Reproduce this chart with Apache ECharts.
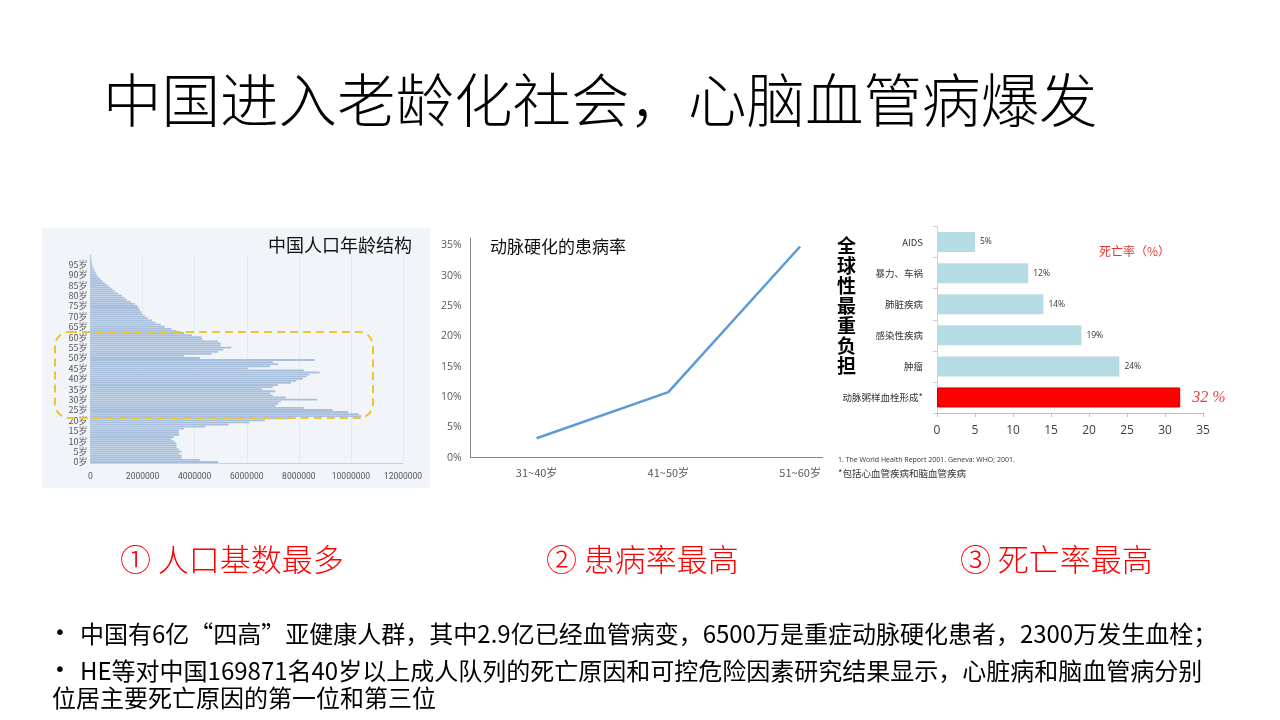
<!DOCTYPE html>
<html>
<head>
<meta charset="utf-8">
<script src="https://cdn.jsdelivr.net/npm/echarts@6/dist/echarts.min.js"></script>
<style>
  html, body { margin: 0; padding: 0; background: #ffffff; }
  #page { position: absolute; left: 0; top: 0; width: 1280px; height: 720px; }
  #lineWrap { position: absolute; left: 430px; top: 225px; width: 393px; height: 262px; overflow: hidden; }
  #lineChart { width: 460px; height: 262px; }
</style>
</head>
<body>
<div id="page"></div>
<div id="lineWrap"><div id="lineChart"></div></div>
<script>
// ---- data ----
// population by single year of age (0岁 ... 99岁)
var ageLabels = [];
for (var a = 0; a < 100; a++) ageLabels.push(a + "岁");
var population = [
  4900000, 4200000, 3500000, 3500000, 3400000, 3500000, 3400000, 3300000, 3300000, 3300000,
  3200000, 3100000, 3200000, 3400000, 3400000, 3400000, 3600000, 4400000, 5300000, 6100000,
  6700000, 7600000, 10400000, 10300000, 9900000, 9300000, 8200000, 7100000, 7200000, 7300000,
  8700000, 7500000, 7000000, 6900000, 7100000, 6600000, 7000000, 7200000, 7700000, 7900000,
  8150000, 8300000, 8400000, 8800000, 8200000, 6050000, 6900000, 7200000, 7000000, 8600000,
  4200000, 3600000, 4650000, 4900000, 5100000, 5400000, 5000000, 5000000, 4900000, 4300000,
  4260000, 3900000, 3600000, 3300000, 3100000, 2850000, 2700000, 2500000, 2350000, 2200000,
  2100000, 2000000, 1950000, 1900000, 1850000, 1800000, 1700000, 1550000, 1400000, 1300000,
  1200000, 1050000, 950000, 850000, 750000, 650000, 550000, 450000, 380000, 300000,
  240000, 200000, 160000, 120000, 90000, 70000, 50000, 40000, 30000, 20000
];

// atherosclerosis prevalence (%)
var ageGroups = ["31~40岁", "41~50岁", "51~60岁"];
var prevalence = [3.2, 10.8, 34.8];

// global burden: death rate (%)
var causes = ["AIDS", "暴力、车祸", "肺脏疾病", "感染性疾病", "肿瘤", "动脉粥样血栓形成*"];
var deathRates = [5, 12, 14, 19, 24, 32];

var CJK = "'Noto Sans CJK SC', 'Noto Sans', sans-serif";

// ------------------------------
// Page: title, population pyramid, death-rate bars, texts
// ------------------------------
var page = echarts.init(document.getElementById("page"));

var deathData = deathRates.map(function (v, i) {
  var last = i === deathRates.length - 1;
  return {
    value: v,
    itemStyle: last
      ? { color: "#ff0000", borderColor: "#c00000", borderWidth: 1 }
      : { color: "#b5dce4" },
    label: last
      ? { formatter: "{c} %", fontSize: 16, fontStyle: "italic", fontFamily: "'Liberation Serif', serif", color: "#e0403a", distance: 12 }
      : { formatter: "{c}%" },
  };
});

var pageOption = {
  backgroundColor: "#ffffff",
  animation: false,
  grid: [
    { left: 90.5, top: 255, width: 312.5, height: 208 },
    { left: 937, top: 226.5, width: 266, height: 186.5 },
  ],
  xAxis: [
    {
      gridIndex: 0,
      type: "value",
      min: 0,
      max: 12000000,
      interval: 2000000,
      axisLine: { show: true, lineStyle: { color: "#c9d0d8" } },
      axisTick: { show: false },
      splitLine: { show: true, lineStyle: { color: "#e4e9ef" } },
      axisLabel: {
        formatter: function (v) { return String(v); },
        fontSize: 8.5, color: "#555", margin: 9, fontFamily: "Roboto, sans-serif",
      },
    },
    {
      gridIndex: 1,
      type: "value",
      min: 0,
      max: 35,
      interval: 5,
      axisLine: { show: true, lineStyle: { color: "#bfbfbf" } },
      axisTick: { show: true, length: 4, lineStyle: { color: "#bfbfbf" } },
      splitLine: { show: false },
      axisLabel: { fontSize: 12, color: "#404040", margin: 12, fontFamily: "'Open Sans', sans-serif" },
    },
  ],
  yAxis: [
    {
      gridIndex: 0,
      type: "category",
      data: ageLabels,
      axisLine: { show: true, lineStyle: { color: "#c9d0d8" } },
      axisTick: { show: false },
      axisLabel: {
        interval: function (i) { return i % 5 === 0; },
        fontSize: 9,
        color: "#555",
        margin: 3,
        fontFamily: CJK,
      },
    },
    {
      gridIndex: 1,
      type: "category",
      inverse: true,
      data: causes,
      axisLine: { show: true, lineStyle: { color: "#d0d0d0" } },
      axisTick: { show: true, length: 4, lineStyle: { color: "#d0d0d0" } },
      axisLabel: { fontSize: 9.5, color: "#333", margin: 14, fontFamily: CJK },
    },
  ],
  series: [
    {
      name: "人口",
      type: "bar",
      xAxisIndex: 0,
      yAxisIndex: 0,
      data: population,
      barCategoryGap: "12%",
      itemStyle: { color: "#a9c0dc" },
      z: 3,
    },
    {
      name: "死亡率",
      type: "bar",
      xAxisIndex: 1,
      yAxisIndex: 1,
      data: deathData,
      barWidth: 20,
      label: { show: true, position: "right", distance: 5, fontSize: 8.5, color: "#333", fontFamily: "'Open Sans', sans-serif" },
    },
  ],
  graphic: [
    // pale picture background behind the pyramid
    { type: "rect", z: -10, shape: { x: 42, y: 228, width: 388, height: 260 }, style: { fill: "#f1f4f8" } },
    // highlight box
    {
      type: "rect", z: 50,
      shape: { x: 55, y: 332, width: 318, height: 86, r: 14 },
      style: { fill: "none", stroke: "#f2c232", lineWidth: 2, lineDash: [8, 5] },
    },
    { type: "text", z: 50, left: 268, top: 236, style: { text: "中国人口年龄结构", font: "18px " + CJK, fill: "#111" } },

    // main title
    { type: "text", left: 103, top: 71, style: { text: "中国进入老龄化社会，心脑血管病爆发", font: "300 58.5px " + CJK, fill: "#000" } },

    // right chart decorations
    { type: "text", left: 837, top: 236, style: { text: "全\n球\n性\n最\n重\n负\n担", font: "bold 19px " + CJK, lineHeight: 20, fill: "#000" } },
    { type: "text", left: 1099, top: 245, style: { text: "死亡率（%）", font: "12px " + CJK, fill: "#e3342f" } },
    { type: "text", left: 838, top: 456, style: { text: "1. The World Health Report 2001. Geneva: WHO; 2001.", font: "7px 'Open Sans', sans-serif", fill: "#333" } },
    { type: "text", left: 838, top: 469, style: { text: "*包括心血管疾病和脑血管疾病", font: "9.5px " + CJK, fill: "#333" } },

    // red captions
    { type: "text", left: 120, top: 544, style: { text: "① 人口基数最多", font: "300 31px " + CJK, fill: "#ff0000" } },
    { type: "text", left: 546, top: 544, style: { text: "② 患病率最高", font: "300 31px " + CJK, fill: "#ff0000" } },
    { type: "text", left: 960, top: 544, style: { text: "③ 死亡率最高", font: "300 31px " + CJK, fill: "#ff0000" } },

    // bullets
    { type: "text", left: 54, top: 624, style: { text: "•", font: "20px 'DejaVu Sans', sans-serif", fill: "#000" } },
    { type: "text", left: 80, top: 622, style: { text: "中国有6亿“四高”亚健康人群，其中2.9亿已经血管病变，6500万是重症动脉硬化患者，2300万发生血栓；", font: "24px " + CJK, fill: "#000" } },
    { type: "text", left: 54, top: 661, style: { text: "•", font: "20px 'DejaVu Sans', sans-serif", fill: "#000" } },
    { type: "text", left: 80, top: 659, style: { text: "HE等对中国169871名40岁以上成人队列的死亡原因和可控危险因素研究结果显示，心脏病和脑血管病分别", font: "24px " + CJK, fill: "#000" } },
    { type: "text", left: 52, top: 686, style: { text: "位居主要死亡原因的第一位和第三位", font: "24px " + CJK, fill: "#000" } },
  ],
};
page.setOption(pageOption);

// ------------------------------
// Line chart: atherosclerosis prevalence (clipped like the pasted picture)
// ------------------------------
var lineChart = echarts.init(document.getElementById("lineChart"));
var lineOption = {
  animation: false,
  grid: { left: 40.7, top: 13, width: 395.3, height: 219.7 },
  xAxis: {
    type: "category",
    data: ageGroups,
    axisLine: { lineStyle: { color: "#868686" } },
    axisTick: { show: false },
    axisLabel: { fontSize: 11, color: "#595959", margin: 10, fontFamily: CJK },
  },
  yAxis: {
    type: "value",
    min: 0,
    max: 36.2,
    interval: 5,
    axisLine: { show: true, lineStyle: { color: "#868686" } },
    axisTick: { show: false },
    splitLine: { show: false },
    axisLabel: { showMaxLabel: false, formatter: "{value}%", fontSize: 10.5, color: "#595959", margin: 9, fontFamily: "'Open Sans', sans-serif" },
  },
  series: [
    {
      type: "line",
      data: prevalence,
      symbol: "none",
      lineStyle: { color: "#5b9bd5", width: 2.5 },
    },
  ],
  graphic: [
    { type: "text", left: 60, top: 13, style: { text: "动脉硬化的患病率", font: "17px " + CJK, fill: "#111" } },
  ],
};
lineChart.setOption(lineOption);
</script>
</body>
</html>
